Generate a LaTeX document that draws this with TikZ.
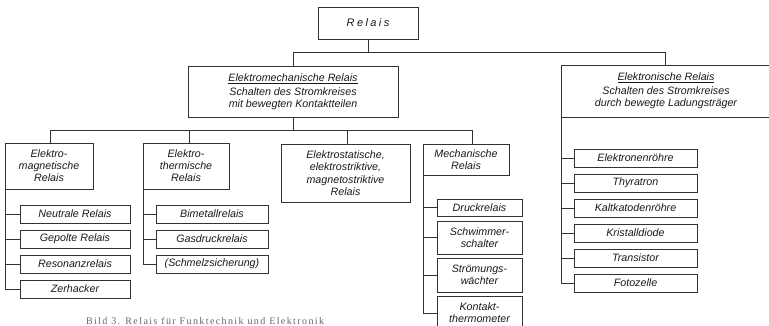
\documentclass[tikz,border=0pt]{standalone}
\usepackage{fontspec}
\setmainfont{Liberation Sans}
\newfontfamily\capfont{Liberation Serif}[LetterSpace=14]
\newfontfamily\spacedfont{Liberation Sans}[LetterSpace=22]
\begin{document}
\begin{tikzpicture}[x=1pt,y=-1pt,
  every node/.style={inner sep=0pt,outer sep=0pt},
  lbl/.style={font=\itshape\fontsize{10.7}{12}\selectfont,align=center,text=black!90},
  box/.style={lbl,draw=black!80,line width=0.6pt,rectangle},
  wire/.style={draw=black!80,line width=0.6pt}]
\useasboundingbox (0,0) rectangle (769,325);
% top
\node[box,minimum width=100,minimum height=32,font=\spacedfont\itshape\fontsize{11}{13}\selectfont] (rel) at (368,23) {Relais};
\node[box,minimum width=210,minimum height=51] (em) at (293,91.5)
  {\underline{Elektromechanische Relais}\\[2pt]Schalten des Stromkreises\\mit bewegten Kontaktteilen};
\node[box,minimum width=210,minimum height=52] (el) at (666,91)
  {\underline{Elektronische Relais}\\[2pt]Schalten des Stromkreises\\durch bewegte Ladungsträger};
\draw[wire] (rel.south) -- ++(0,13);
\draw[wire] (em.north) -- ++(0,-14) -| ([xshift=-1]el.north);
% second level
\node[box,minimum width=88,minimum height=46] (c1) at (49,166) {Elektro-\\magnetische\\Relais};
\node[box,minimum width=86,minimum height=46] (c2) at (186,166) {Elektro-\\thermische\\Relais};
\node[box,minimum width=129,minimum height=58,font=\itshape\fontsize{10.7}{12.4}\selectfont] (c3) at (345.5,173) {Elektrostatische,\\elektrostriktive,\\magnetostriktive\\Relais};
\node[box,minimum width=86,minimum height=31] (c4) at (466,159.5) {Mechanische\\Relais};
\draw[wire] (em.south) -- ++(0,14);
\draw[wire] ([xshift=1]c1.north) -- ++(0,-13) -| ([xshift=6]c4.north);
\draw[wire] ([xshift=3]c2.north) -- ++(0,-13);
\draw[wire] ([xshift=1.5]c3.north) -- ++(0,-13);
% items c1
\node[box,minimum width=110,minimum height=18] (a1) at (75,214) {Neutrale Relais};
\node[box,minimum width=110,minimum height=18] (a2) at (75,239) {Gepolte Relais};
\node[box,minimum width=110,minimum height=18] (a3) at (75,264) {Resonanzrelais};
\node[box,minimum width=110,minimum height=18] (a4) at (75,289) {Zerhacker};
\draw[wire] (c1.south west) |- (a4.west);
\foreach \n in {a1,a2,a3} \draw[wire] (\n.west) -- (\n.west -| c1.south west);
% items c2
\node[box,minimum width=112,minimum height=18] (b1) at (212,214) {Bimetallrelais};
\node[box,minimum width=112,minimum height=18] (b2) at (212,239) {Gasdruckrelais};
\node[box,minimum width=112,minimum height=18] (b3) at (212,264) {(Schmelzsicherung)};
\draw[wire] (c2.south west) |- (b3.west);
\foreach \n in {b1,b2} \draw[wire] (\n.west) -- (\n.west -| c2.south west);
% items c4
\node[box,minimum width=85,minimum height=17] (d1) at (479.5,207.5) {Druckrelais};
\node[box,minimum width=85,minimum height=33] (d2) at (479.5,237.5) {Schwimmer-\\schalter};
\node[box,minimum width=85,minimum height=34] (d3) at (479.5,275) {Strömungs-\\wächter};
\node[box,minimum width=85,minimum height=34] (d4) at (479.5,313) {Kontakt-\\thermometer};
\draw[wire] (c4.south west) |- (d4.west);
\foreach \n in {d1,d2,d3} \draw[wire] (\n.west) -- (\n.west -| c4.south west);
% items el
\node[box,minimum width=123,minimum height=18] (e1) at (635.5,158) {Elektronenröhre};
\node[box,minimum width=123,minimum height=18] (e2) at (635.5,183) {Thyratron};
\node[box,minimum width=123,minimum height=18] (e3) at (635.5,208) {Kaltkatodenröhre};
\node[box,minimum width=123,minimum height=18] (e4) at (635.5,233) {Kristalldiode};
\node[box,minimum width=123,minimum height=18] (e5) at (635.5,258) {Transistor};
\node[box,minimum width=123,minimum height=18] (e6) at (635.5,283) {Fotozelle};
\draw[wire] (el.south west) |- (e6.west);
\foreach \n in {e1,e2,e3,e4,e5} \draw[wire] (\n.west) -- (\n.west -| el.south west);
% caption
\node[anchor=base west,font=\capfont\fontsize{10}{12}\selectfont,text=black!60] (cap) at (86,324) {Bild 3. Relais für Funktechnik und Elektronik};
\end{tikzpicture}
\end{document}
